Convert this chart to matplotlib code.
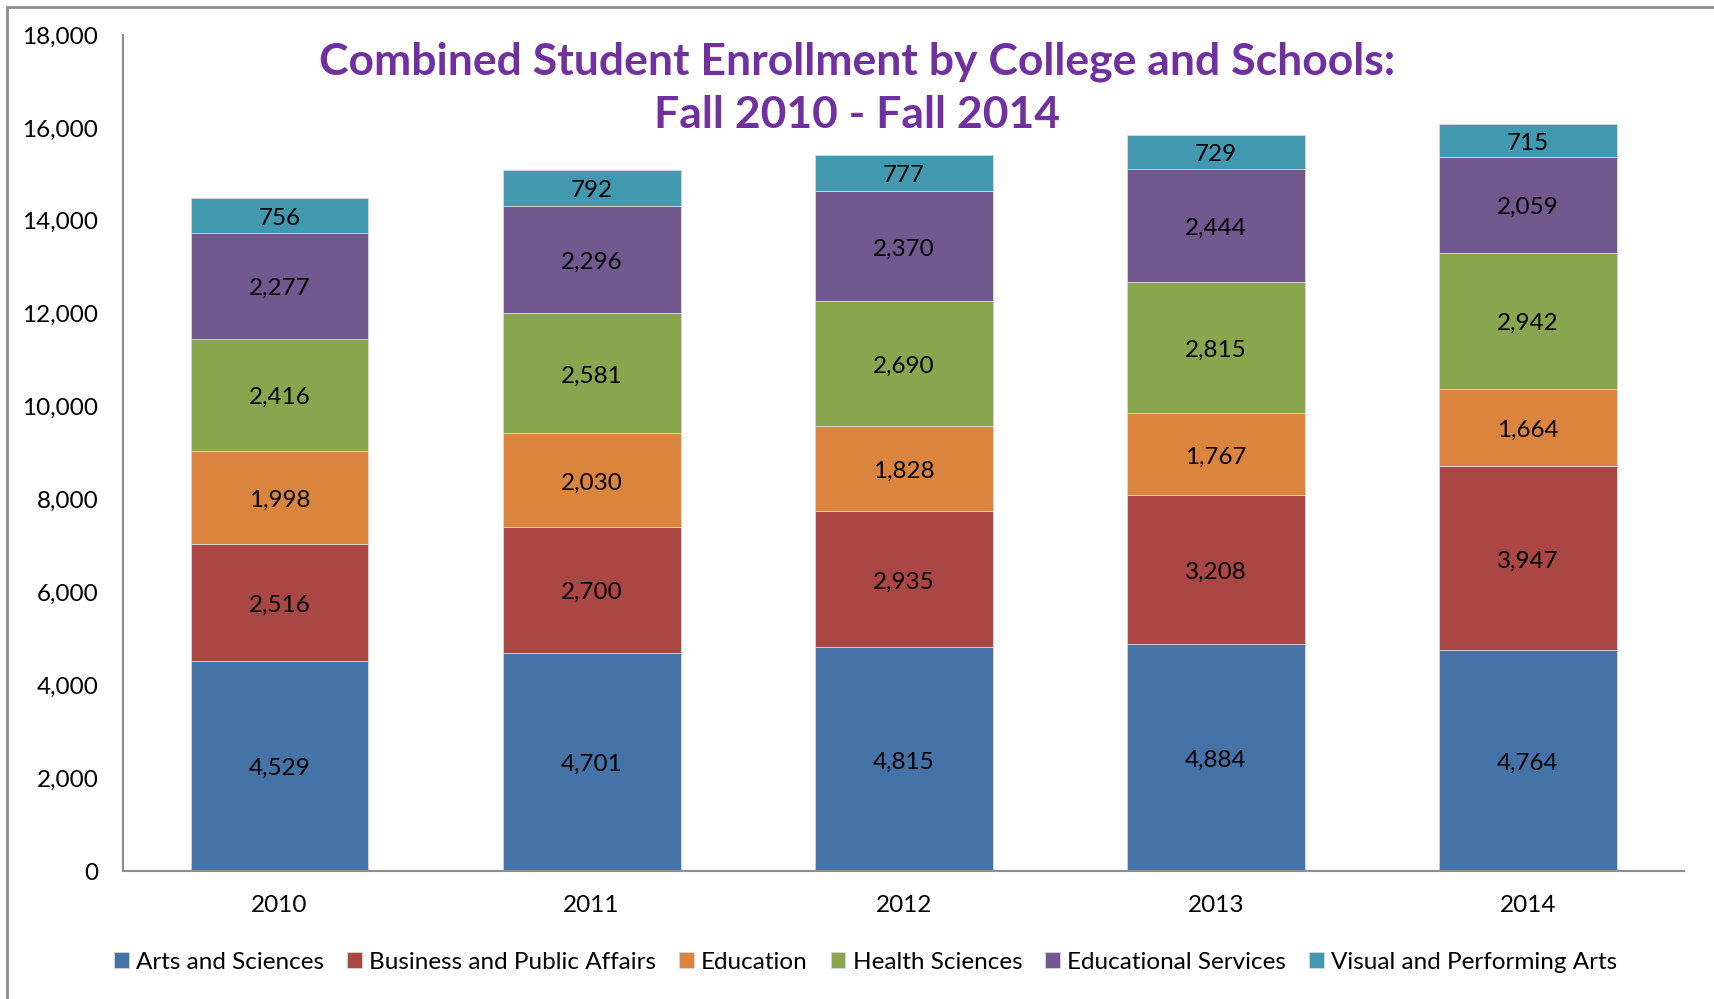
import matplotlib.pyplot as plt
import numpy as np
from matplotlib.patches import Rectangle

# Enrollment by college, Fall 2010 - Fall 2014
years = ["2010", "2011", "2012", "2013", "2014"]
arts_sciences = [4529, 4701, 4815, 4884, 4764]
business_public = [2516, 2700, 2935, 3208, 3947]
education = [1998, 2030, 1828, 1767, 1664]
health_sciences = [2416, 2581, 2690, 2815, 2942]
educational_services = [2277, 2296, 2370, 2444, 2059]
visual_performing = [756, 792, 777, 729, 715]

series_names = ["Arts and Sciences", "Business and Public Affairs", "Education",
                "Health Sciences", "Educational Services", "Visual and Performing Arts"]
series_colors = ["#4572A7", "#AA4643", "#DB843D", "#89A54E", "#71588F", "#4198AF"]
y_ticks = [0, 2000, 4000, 6000, 8000, 10000, 12000, 14000, 16000, 18000]

plt.rcParams["font.family"] = ["Lato", "DejaVu Sans"]

fig = plt.figure(figsize=(17.14, 9.99), dpi=100)
ax = fig.add_axes([0.072, 0.128, 0.9105, 0.837])

# outer chart border (only left/top fall inside the picture)
fig.patches.append(Rectangle((7 / 1714, -0.5), 1.2, 1.493,
                             transform=fig.transFigure, fill=False,
                             edgecolor="#8c8c8c", linewidth=2.0))

x = np.arange(len(years))
bottom = np.zeros(len(years))
all_series = [arts_sciences, business_public, education,
              health_sciences, educational_services, visual_performing]
for vals, name, col in zip(all_series, series_names, series_colors):
    bars = ax.bar(x, vals, width=0.57, bottom=bottom, color=col, label=name,
                  edgecolor="#d9d9d9", linewidth=0.6)
    texts = ax.bar_label(bars, labels=[f"{v:,}" for v in vals], label_type="center",
                         fontsize=17.5, color="black")
    for t in texts:
        t.set_y(t.get_position()[1] - 2)  # nudge a touch lower, like Calibri
    bottom += np.array(vals)

ax.set_xlim(-0.5, len(years) - 0.5)
ax.set_ylim(0, 18000)
ax.set_yticks(y_ticks)
ax.set_yticklabels([f"{t:,}" for t in y_ticks])
ax.set_xticks(x)
ax.set_xticklabels(years)
ax.tick_params(axis="both", length=0, labelsize=17.5)
ax.tick_params(axis="y", pad=18)
ax.tick_params(axis="x", pad=17)

for side in ["top", "right"]:
    ax.spines[side].set_visible(False)
for side in ["left", "bottom"]:
    ax.spines[side].set_color("#8c8c8c")
    ax.spines[side].set_linewidth(1.5)

fig.text(0.5, 0.912, "Combined Student Enrollment by College and Schools:\nFall 2010 - Fall 2014",
         ha="center", va="center", fontsize=32, fontweight="bold", color="#7030A0",
         linespacing=1.4)

ax.legend(loc="center", bbox_to_anchor=(0.505, 0.037), bbox_transform=fig.transFigure,
          ncol=6, frameon=False, fontsize=17.5, handlelength=0.6, handleheight=0.6,
          handletextpad=0.3, columnspacing=0.95)

fig.savefig("out.png", dpi=100)
